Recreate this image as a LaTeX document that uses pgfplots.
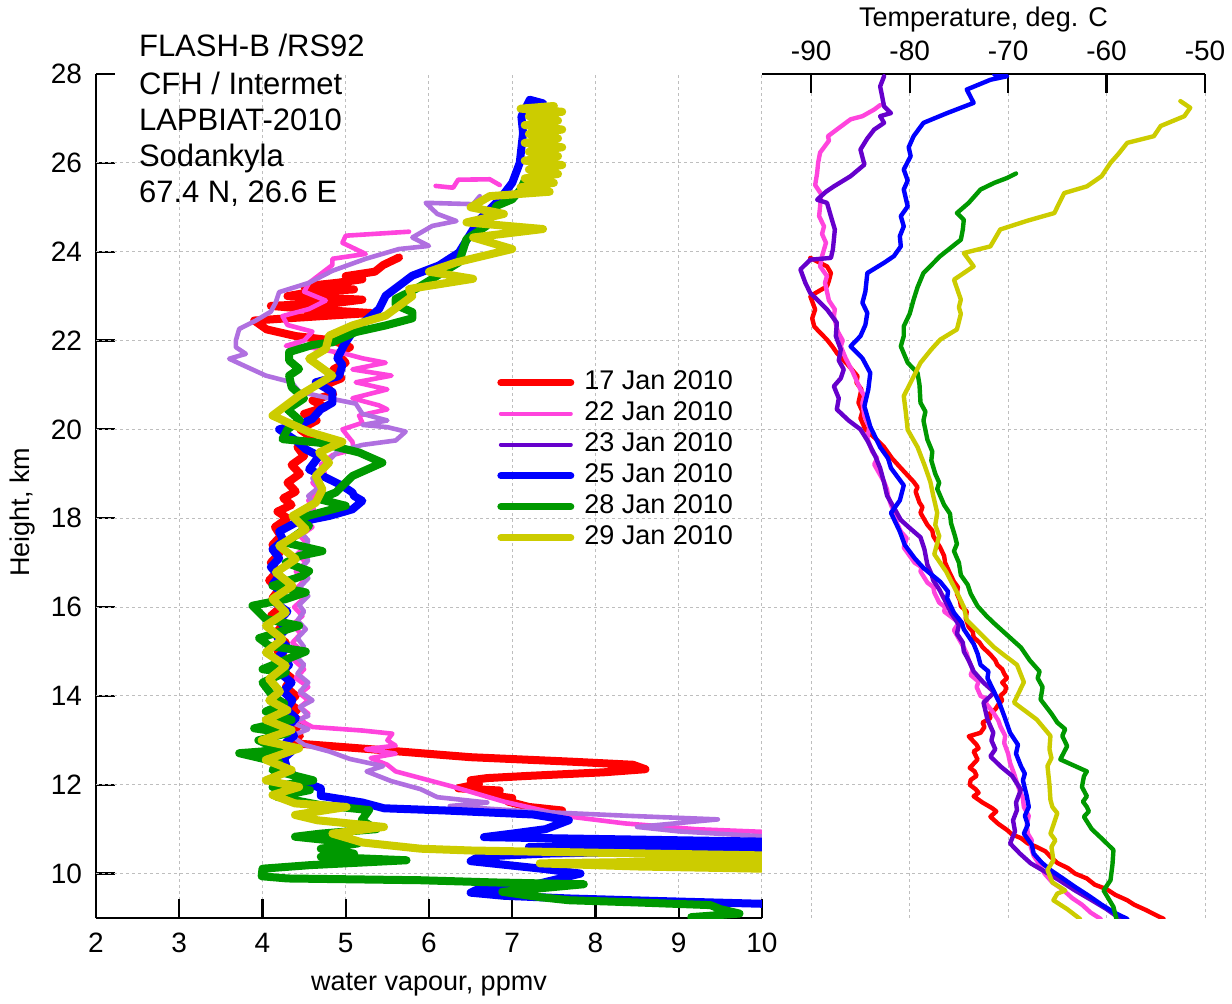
\documentclass[border=0pt]{standalone}
\usepackage{fontspec}
\setmainfont{Liberation Sans}
\usepackage{pgfplots}
\pgfplotsset{compat=1.18}

\definecolor{c17}{RGB}{255,0,0}
\definecolor{c22}{RGB}{255,68,221}
\definecolor{c23}{RGB}{102,0,204}
\definecolor{c23l}{RGB}{176,112,224}
\definecolor{c25}{RGB}{0,0,255}
\definecolor{c28}{RGB}{0,153,0}
\definecolor{c29}{RGB}{204,204,0}
\definecolor{gridgray}{RGB}{190,190,190}

\pgfplotsset{
  profile/.style={
    scale only axis, height=422pt, ymin=9, ymax=28,
    axis line style={-, line width=1.1pt},
    tick align=inside, major tick length=9.5pt,
    tick style={line width=1.1pt, black},
    grid style={gridgray, line width=0.5pt, dash pattern=on 1.5pt off 1.5pt},
    tick label style={font=\fontsize{14}{16}\selectfont},
    label style={font=\fontsize{13.5}{16}\selectfont},
    /pgf/number format/assume math mode=true,
    unbounded coords=jump,
  },
  wv/.style={line cap=round, line join=round, line width=4pt},
  wvthin/.style={line cap=round, line join=round, line width=2.3pt},
  tt/.style={line cap=round, line join=round, line width=2.2pt},
}

\begin{document}
\begin{tikzpicture}
\path[use as bounding box] (-48pt,-42.5pt) rectangle (568pt,459pt);

% ---------------- water vapour panel ----------------
\begin{axis}[profile,
  at={(0pt,0pt)}, anchor=south west, width=333pt,
  xmin=2, xmax=10,
  axis x line*=bottom, axis y line*=left,
  xtick={2,...,10}, ytick={10,12,...,28},
  xmajorgrids,
  extra y ticks={10,12,...,26}, extra y tick labels={},
  extra y tick style={grid=major, major tick length=0pt},
  xticklabel style={yshift=-4pt},
  yticklabel style={xshift=-3.5pt},
  xlabel={water vapour, ppmv}, ylabel={Height, km},
  xlabel style={at={(axis description cs:0.5,-0.0794)}, anchor=center},
  ylabel style={at={(axis description cs:-0.111,0.481)}, anchor=center},
  legend style={at={(0.602,0.652)}, anchor=north west, draw=none, fill=none,
    font=\fontsize{13.5}{16}\selectfont, row sep=1pt, column sep=4pt,
    inner sep=0pt, nodes={inner sep=1pt, text height=9.5pt, text depth=3pt}},
  legend cell align=left,
  legend image code/.code={\draw[#1] (0pt,0pt) -- (35pt,0pt);},
]
\addlegendimage{c17, line width=3.5pt, line cap=round}
\addlegendentry{17 Jan 2010}
\addlegendimage{c22, line width=2pt, line cap=round}
\addlegendentry{22 Jan 2010}
\addlegendimage{c23, line width=2pt, line cap=round}
\addlegendentry{23 Jan 2010}
\addlegendimage{c25, line width=3.5pt, line cap=round}
\addlegendentry{25 Jan 2010}
\addlegendimage{c28, line width=3.5pt, line cap=round}
\addlegendentry{28 Jan 2010}
\addlegendimage{c29, line width=3.5pt, line cap=round}
\addlegendentry{29 Jan 2010}

% 17 Jan
\addplot[c17, wv, forget plot] coordinates {
(7.6,11.42) (7.2,11.5) (6.95,11.62) (7.0,11.7) (6.7,11.77) (6.85,11.87) (6.35,11.92)
(6.6,12.02) (6.5,12.1) (6.7,12.15) (7.2,12.2) (8.1,12.28) (8.6,12.35) (8.45,12.45)
(7.7,12.52) (6.5,12.62) (5.3,12.8) (4.4,12.93) (4.33,13.0) (4.45,13.1) (4.38,13.25)
(4.48,13.4) (4.35,13.55) (4.42,13.7) (4.3,13.85) (4.4,14.0) (4.28,14.2) (4.35,14.4)
(4.22,14.6) (4.3,14.8) (4.18,15.0) (4.28,15.2) (4.15,15.4) (4.25,15.6) (4.1,15.8)
(4.22,16.0) (4.12,16.2) (4.2,16.4) (4.08,16.6) (4.18,16.8) (4.1,17.0) (4.2,17.2)
(4.12,17.4) (4.22,17.6) (4.15,17.8) (4.3,18.0) (4.18,18.15) (4.35,18.3) (4.25,18.45)
(4.4,18.6) (4.3,18.8) (4.45,19.0) (4.35,19.2) (4.5,19.4) (4.42,19.6) (4.6,19.8)
(4.45,20.0) (4.65,20.2) (4.5,20.35) (4.75,20.5) (4.6,20.65) (4.85,20.8) (4.75,21.0)
(4.95,21.15) (4.85,21.35) (5.0,21.5) (4.9,21.7) (5.05,21.85) (4.85,22.0) (4.4,22.1)
(4.05,22.25) (3.9,22.45) (4.3,22.5) (5.3,22.62) (4.6,22.7) (4.1,22.78) (4.9,22.85)
(5.2,22.92) (4.3,23.0) (4.6,23.1) (5.1,23.15) (4.5,23.22) (4.9,23.3) (5.2,23.38)
(5.0,23.45) (5.35,23.55) (5.45,23.7) (5.64,23.87)
};
% 22 Jan
\addplot[c22, wvthin, forget plot] coordinates {
(10,10.94) (9.2,11.0) (8.35,11.13) (7.7,11.28) (7.3,11.45) (6.9,11.62) (6.7,11.73)
(6.3,11.95) (6.0,12.1) (5.6,12.3) (5.5,12.45) (5.3,12.6) (5.6,12.7) (5.24,12.8)
(5.6,12.88) (5.5,13.0) (5.56,13.15) (5.2,13.22) (4.6,13.3) (4.45,13.45) (4.55,13.6)
(4.45,13.75) (4.55,13.9) (4.45,14.05) (4.55,14.2) (4.4,14.4) (4.5,14.6) (4.38,14.8)
(4.48,15.0) (4.36,15.2) (4.46,15.4) (4.36,15.6) (4.48,15.8) (4.38,16.0) (4.5,16.2)
(4.4,16.4) (4.5,16.6) (4.4,16.8) (4.52,17.0) (4.42,17.2) (4.55,17.4) (4.45,17.6)
(4.6,17.8) (4.5,18.0) (4.62,18.2) (4.55,18.4) (4.7,18.6) (4.6,18.8) (4.75,19.0)
(4.7,19.2) (4.84,19.42) (5.1,19.55) (5.08,19.72) (4.96,20.0) (5.2,20.15) (5.16,20.31)
(5.5,20.45) (5.4,20.54) (5.08,20.7) (5.5,20.9) (5.12,21.06) (5.55,21.21) (5.08,21.35)
(5.48,21.5) (5.2,21.6) (5.0,21.7) (4.56,21.85) (4.28,21.88) (4.5,22.0) (4.6,22.2)
(4.3,22.35) (4.24,22.55) (4.56,22.71) (4.76,22.9) (4.5,23.1) (4.56,23.3) (4.7,23.5)
(4.84,23.7) (4.84,23.84) (5.24,23.95) (4.96,24.2) (5.0,24.36) (5.76,24.45)
(nan,nan)
(6.08,25.48) (6.29,25.44) (6.35,25.62) (6.73,25.63) (6.85,25.5)
};
% 23 Jan
\addplot[c23l, wvthin, forget plot] coordinates {
(10,10.84) (9.0,10.95) (8.5,11.05) (9.47,11.22) (8.4,11.3) (7.2,11.4) (6.25,11.52)
(6.7,11.6) (6.1,11.72) (5.9,11.9) (5.55,12.08) (5.25,12.3) (5.45,12.42) (5.05,12.58)
(4.8,12.75) (4.5,12.9) (4.35,13.1) (4.55,13.25) (4.35,13.4) (4.55,13.55) (4.45,13.75)
(4.6,13.9) (4.45,14.1) (4.55,14.3) (4.42,14.5) (4.5,14.7) (4.4,14.9) (4.5,15.1)
(4.42,15.3) (4.52,15.5) (4.42,15.7) (4.5,15.9) (4.44,16.05) (4.55,16.25) (4.45,16.45)
(4.55,16.65) (4.45,16.85) (4.55,17.05) (4.48,17.25) (4.55,17.5) (4.45,17.7) (4.58,17.9)
(4.5,18.1) (4.62,18.3) (4.55,18.5) (4.68,18.7) (4.6,18.9) (4.75,19.1) (4.8,19.3)
(4.9,19.5) (5.2,19.65) (5.6,19.75) (5.72,19.95) (5.5,20.05) (5.2,20.1) (5.5,20.2)
(5.2,20.35) (5.12,20.58) (4.8,20.7) (4.44,20.85) (4.35,21.06) (4.04,21.21) (3.76,21.45)
(3.6,21.59) (3.8,21.7) (3.68,21.85) (3.68,22.0) (3.72,22.26) (3.92,22.45) (4.1,22.65)
(4.16,22.86) (4.2,23.09) (4.56,23.3) (4.84,23.57) (5.24,23.84) (5.64,24.06) (6.0,24.13)
(5.8,24.32) (6.04,24.58) (6.33,24.69) (6.1,24.85) (5.96,25.1) (6.53,25.07) (6.61,25.25)
};
% 25 Jan
\addplot[c25, wv, forget plot] coordinates {
(10,9.32) (8.8,9.38) (7.68,9.44) (6.9,9.5) (6.5,9.57) (6.6,9.66) (7.2,9.72) (7.82,10.0)
(7.4,10.1) (6.9,10.2) (6.5,10.28) (6.6,10.38) (7.4,10.45) (10,10.55) (7.2,10.6)
(10,10.66) (10,10.72) (6.66,10.82) (7.0,10.9) (7.4,11.0) (7.68,11.2) (7.25,11.33)
(6.2,11.42) (5.46,11.47) (5.2,11.6) (4.7,11.75) (4.7,11.92) (4.45,12.1) (4.3,12.33)
(4.26,12.6) (4.35,12.75) (4.28,12.95) (4.38,13.1) (4.3,13.3) (4.4,13.5) (4.28,13.7)
(4.36,13.9) (4.25,14.1) (4.35,14.3) (4.22,14.5) (4.32,14.7) (4.2,14.9) (4.3,15.1)
(4.18,15.3) (4.28,15.5) (4.2,15.7) (4.3,15.9) (4.15,16.1) (4.25,16.3) (4.12,16.5)
(4.2,16.7) (4.1,16.9) (4.2,17.1) (4.12,17.3) (4.25,17.5) (4.2,17.7) (4.4,17.9)
(4.8,18.05) (5.08,18.2) (5.2,18.39) (5.1,18.5) (5.08,18.58) (4.96,18.73) (4.56,19.1)
(4.68,19.4) (4.52,19.55) (4.4,19.75) (4.2,20.0) (4.5,20.15) (4.6,20.24) (4.7,20.45)
(4.84,20.6) (4.84,20.84) (4.64,21.06) (4.92,21.2) (4.96,21.45) (4.9,21.6) (4.98,21.9)
(5.05,22.1) (5.12,22.26) (5.4,22.71) (5.48,23.01) (5.8,23.46) (6.12,23.69) (6.36,23.98)
(6.53,24.5) (6.61,24.73) (6.85,25.18) (7.0,25.55) (7.09,26.0) (7.13,26.67) (7.11,27.04)
(7.21,27.42) (7.37,27.34)
};
% 28 Jan
\addplot[c28, wv, forget plot] coordinates {
(9.15,9.02) (9.73,9.1) (9.5,9.2) (9.38,9.29) (8.5,9.35) (7.68,9.4) (7.33,9.47)
(6.88,9.59) (7.86,9.76) (6.8,9.8) (5.9,9.85) (4.3,9.89) (3.99,9.94) (4.0,10.11)
(4.57,10.19) (5.73,10.3) (4.7,10.38) (5.1,10.45) (4.7,10.56) (5.15,10.68) (4.39,10.83)
(4.7,10.9) (5.37,11.0) (5.19,11.2) (5.28,11.43) (4.7,11.54) (4.17,11.73) (4.57,11.88)
(4.12,11.95) (4.61,12.1) (4.12,12.33) (4.2,12.5) (3.72,12.71) (4.21,12.78) (3.95,13.0)
(4.3,13.16) (3.9,13.27) (4.35,13.46) (4.04,13.65) (4.26,13.83) (4.12,14.0) (4.0,14.3)
(4.28,14.53) (4.0,14.6) (4.52,15.0) (4.08,15.13) (3.96,15.3) (4.44,15.58) (4.04,15.73)
(3.88,16.03) (4.28,16.18) (4.52,16.33) (4.12,16.48) (4.48,16.7) (4.56,16.81) (4.28,17.0)
(4.44,17.15) (4.72,17.26) (4.28,17.45) (4.56,17.83) (4.4,17.98) (5.0,18.28) (4.68,18.43)
(4.88,18.58) (5.08,18.95) (5.44,19.25) (5.16,19.48) (4.68,19.7) (4.24,19.78) (4.3,20.0)
(4.45,20.2) (4.3,20.45) (4.5,20.7) (4.35,20.95) (4.32,21.21) (4.44,21.36) (4.32,21.55)
(4.32,21.74) (4.6,21.9) (4.84,21.96) (5.12,22.19) (5.48,22.34) (5.8,22.5) (5.8,22.64)
(5.6,22.8) (5.6,22.94) (5.84,23.16) (6.04,23.39) (6.36,23.76) (6.45,24.28) (6.69,24.58)
(6.81,25.03) (7.0,25.18) (7.1,25.4) (7.15,25.6)
};
% 29 Jan
\addplot[c29, wv, forget plot] coordinates {
(10,10.11) (8.5,10.16) (7.33,10.23) (8.8,10.27) (10,10.3) (9.0,10.35) (10,10.41)
(8.0,10.47) (6.5,10.52) (5.9,10.56) (5.2,10.7) (4.84,10.9) (5.46,11.05) (4.66,11.2)
(4.39,11.32) (5.01,11.5) (4.39,11.58) (4.12,11.77) (4.44,11.95) (4.04,12.1) (4.35,12.33)
(4.04,12.56) (4.44,12.82) (3.99,13.0) (4.35,13.23) (4.04,13.46) (4.3,13.68) (4.08,13.9)
(4.21,14.1) (4.08,14.38) (4.28,14.68) (4.04,14.98) (4.24,15.28) (4.04,15.58) (4.28,15.88)
(4.12,16.18) (4.36,16.48) (4.16,16.78) (4.4,17.08) (4.2,17.38) (4.52,17.75) (4.36,18.05)
(4.64,18.35) (4.72,18.65) (4.64,18.95) (4.8,19.25) (4.68,19.48) (4.96,19.72) (4.56,19.94)
(4.12,20.31) (4.44,20.76) (4.84,21.21) (4.56,21.59) (4.76,21.81) (4.8,22.11) (5.08,22.34)
(5.48,22.56) (5.8,23.0) (5.76,23.16) (6.53,23.39) (6.0,23.55) (6.33,23.76) (7.0,24.06)
(6.53,24.32) (7.37,24.51) (6.45,24.66) (6.9,24.85) (6.5,25.0) (6.73,25.25) (7.45,25.35)
(7.1,25.45) (7.5,25.55) (7.15,25.65) (7.55,25.75) (7.2,25.85) (7.6,25.95) (7.15,26.05)
(7.55,26.15) (7.2,26.25) (7.6,26.35) (7.15,26.45) (7.55,26.55) (7.2,26.65) (7.6,26.75)
(7.15,26.85) (7.55,26.95) (7.2,27.05) (7.6,27.15) (7.1,27.22) (7.5,27.28)
};
\end{axis}

\node[anchor=base west, font=\fontsize{15.5}{18}\selectfont] at (18pt,430.5pt) {FLASH-B /RS92};
\node[anchor=base west, font=\fontsize{15.5}{18}\selectfont] at (18pt,411.5pt) {CFH / Intermet};
\node[anchor=base west, font=\fontsize{15.5}{18}\selectfont] at (18pt,393.5pt) {LAPBIAT-2010};
\node[anchor=base west, font=\fontsize{15.5}{18}\selectfont] at (18pt,375.5pt) {Sodankyla};
\node[anchor=base west, font=\fontsize{15.5}{18}\selectfont] at (18pt,357.5pt) {67.4 N, 26.6 E};

% ---------------- temperature panel ----------------
\begin{axis}[profile,
  at={(333pt,0pt)}, anchor=south west, width=221.5pt,
  xmin=-95, xmax=-50,
  axis x line*=top, axis y line*=left,
  y axis line style={draw=none},
  xtick={-90,-80,...,-50}, ytick={10,12,...,26}, yticklabels={},
  ytick style={draw=none},
  xticklabel style={yshift=3pt},
  xmajorgrids, ymajorgrids,
  xlabel={Temperature, deg. C},
  xlabel style={at={(axis description cs:0.5,1.064)}, anchor=center},
]
% 17 Jan
\addplot[c17, tt] coordinates {
(-54.2,8.98) (-55.3,9.1) (-56.0,9.18) (-57.2,9.3) (-57.9,9.4) (-59.1,9.52) (-60.0,9.65)
(-61.2,9.75) (-62.0,9.89) (-63.2,10.0) (-63.9,10.12) (-65.0,10.24) (-65.7,10.38) (-66.2,10.5)
(-67.1,10.6) (-68.0,10.68) (-68.7,10.8) (-69.6,10.88) (-70.1,10.98) (-71.0,11.12) (-71.8,11.28)
(-71.2,11.4) (-71.6,11.47) (-72.6,11.6) (-73.5,11.74) (-73.0,11.82) (-73.3,11.9) (-73.9,12.0)
(-73.8,12.11) (-73.2,12.2) (-73.4,12.3) (-73.9,12.38) (-73.6,12.45) (-73.1,12.57) (-73.5,12.75)
(-73.0,12.82) (-73.2,12.9) (-74.0,13.09) (-72.8,13.17) (-72.4,13.3) (-72.6,13.4) (-71.8,13.5)
(-71.9,13.6) (-71.3,13.7) (-71.0,13.8) (-70.6,13.9) (-70.8,14.0) (-70.3,14.1) (-70.2,14.2)
(-70.6,14.3) (-70.1,14.4) (-70.4,14.5) (-70.6,14.6) (-71.1,14.7) (-71.3,14.8) (-71.8,14.93)
(-72.6,15.1) (-72.9,15.2) (-73.5,15.32) (-73.6,15.45) (-74.0,15.55) (-74.3,15.75) (-74.2,15.9)
(-74.8,16.02) (-74.9,16.15) (-75.2,16.3) (-75.1,16.45) (-75.5,16.57) (-76.0,16.8) (-76.4,17.0)
(-76.5,17.15) (-76.9,17.34) (-77.6,17.6) (-77.7,17.72) (-78.2,17.85) (-78.9,18.12) (-78.7,18.25)
(-79.0,18.35) (-79.4,18.6) (-79.2,18.7) (-79.6,18.82) (-80.9,19.13) (-81.8,19.35) (-82.6,19.6)
(-83.5,19.8) (-84.5,20.0) (-85.0,20.25) (-84.8,20.4) (-85.2,20.6) (-84.9,20.9) (-85.4,21.05)
(-85.3,21.2) (-86.3,21.46) (-87.4,21.72) (-87.8,21.85) (-88.4,22.02) (-89.2,22.2) (-89.7,22.32)
(-89.9,22.5) (-89.6,22.7) (-90.1,23.0) (-88.4,23.22) (-88.2,23.35) (-88.0,23.52) (-88.4,23.67)
(-90.1,23.86)
};
% 22 Jan
\addplot[c22, tt] coordinates {
(-60.6,8.98) (-61.6,9.12) (-62.5,9.3) (-63.5,9.45) (-64.5,9.65) (-65.5,9.8) (-66.3,10.0)
(-66.8,10.2) (-67.4,10.4) (-67.7,10.6) (-67.6,10.75) (-68.0,10.9) (-68.1,11.1) (-67.9,11.3)
(-68.4,11.5) (-68.5,11.7) (-68.8,11.85) (-69.1,12.04) (-69.4,12.25) (-69.8,12.49) (-70.0,12.7)
(-70.4,12.94) (-70.3,13.1) (-70.8,13.32) (-71.0,13.45) (-71.5,13.62) (-72.3,13.85) (-72.1,13.92)
(-72.8,14.0) (-73.2,14.2) (-73.0,14.32) (-73.8,14.47) (-73.6,14.6) (-74.0,14.8) (-74.2,14.95)
(-74.5,15.09) (-75.5,15.48) (-75.0,15.65) (-76.5,15.9) (-76.4,16.0) (-77.0,16.1) (-77.5,16.33)
(-77.6,16.45) (-78.2,16.55) (-78.9,16.8) (-78.8,16.9) (-79.5,17.0) (-80.6,17.34) (-80.3,17.55)
(-80.9,17.7) (-81.3,17.89) (-81.6,18.15) (-81.9,18.3) (-82.2,18.5) (-82.3,18.65) (-82.6,18.82)
(-83.6,19.21) (-83.3,19.35) (-83.8,19.5) (-84.3,19.8) (-84.1,20.05) (-84.6,20.3) (-84.8,20.6)
(-84.6,20.75) (-85.0,20.9) (-85.8,21.3) (-86.5,21.6) (-87.0,21.87) (-86.8,22.0) (-87.3,22.2)
(-87.7,22.55) (-87.6,22.7) (-88.2,22.9) (-88.6,23.3) (-88.4,23.45) (-89.1,23.67) (-88.9,23.9)
(-88.5,24.2) (-88.9,24.4) (-88.7,24.57) (-89.2,24.8) (-89.1,25.02) (-89.0,25.3) (-89.6,25.5)
(-89.4,25.77) (-89.3,26.0) (-89.1,26.23) (-88.2,26.5) (-88.3,26.6) (-87.4,26.75) (-86.0,26.98)
(-84.8,27.05) (-83.6,27.2) (-83.0,27.3)
};
% 23 Jan
\addplot[c23, tt] coordinates {
(-58.6,8.98) (-60.0,9.2) (-61.5,9.4) (-63.2,9.62) (-64.8,9.85) (-66.3,10.05) (-67.7,10.23)
(-68.8,10.45) (-69.8,10.68) (-69.3,10.95) (-69.5,11.2) (-69.1,11.43) (-69.2,11.6) (-68.7,11.89)
(-69.6,12.2) (-70.8,12.42) (-71.8,12.64) (-71.3,12.8) (-71.7,13.0) (-71.5,13.17) (-72.1,13.47)
(-72.5,13.85) (-71.4,14.08) (-72.5,14.3) (-73.5,14.55) (-74.0,14.8) (-74.5,15.0) (-74.6,15.2)
(-75.2,15.4) (-75.0,15.6) (-75.8,15.87) (-76.3,16.1) (-77.0,16.4) (-77.6,16.6) (-77.8,16.75)
(-78.2,16.95) (-78.5,17.3) (-78.9,17.57) (-80.0,17.78) (-80.9,17.96) (-81.5,18.2) (-82.3,18.51)
(-82.6,18.8) (-83.0,19.13) (-83.5,19.4) (-84.3,19.75) (-85.0,20.0) (-86.2,20.2) (-87.4,20.45)
(-87.2,20.7) (-87.7,20.97) (-87.0,21.15) (-86.7,21.35) (-87.2,21.55) (-87.0,21.8) (-87.5,22.1)
(-87.4,22.4) (-88.4,22.7) (-89.3,22.9) (-90.1,23.07) (-90.6,23.3) (-91.1,23.6) (-90.1,23.82)
(-88.0,23.86) (-87.8,24.05) (-87.7,24.27) (-87.6,24.5) (-87.9,24.72) (-88.4,25.1) (-89.4,25.17)
(-88.5,25.35) (-87.7,25.47) (-86.0,25.7) (-84.6,25.96) (-85.0,26.3) (-84.3,26.55) (-83.6,26.75)
(-82.6,26.9) (-83.0,27.05) (-81.9,27.12) (-82.6,27.27) (-82.8,27.5) (-83.0,27.72) (-82.6,27.95)
};
% 25 Jan
\addplot[c25, tt] coordinates {
(-57.9,8.98) (-59.2,9.12) (-60.5,9.3) (-61.8,9.5) (-63.2,9.7) (-64.5,9.9) (-65.7,10.08)
(-66.6,10.25) (-67.4,10.45) (-67.6,10.65) (-68.4,10.9) (-68.0,11.1) (-68.3,11.3) (-67.9,11.5)
(-68.1,11.74) (-68.5,12.1) (-68.3,12.25) (-68.7,12.42) (-69.2,12.7) (-69.0,12.9) (-69.8,13.17)
(-70.4,13.55) (-70.9,13.85) (-71.4,14.08) (-72.1,14.4) (-72.0,14.55) (-72.8,14.7) (-73.1,14.95)
(-73.5,15.17) (-74.5,15.5) (-74.7,15.65) (-75.5,15.87) (-76.2,16.2) (-76.1,16.35) (-76.9,16.57)
(-78.6,16.88) (-79.5,17.1) (-80.5,17.4) (-81.0,17.7) (-81.9,18.12) (-81.0,18.4) (-80.6,18.74)
(-81.9,19.13) (-82.2,19.35) (-83.0,19.6) (-84.0,20.06) (-84.6,20.52) (-84.2,20.9) (-84.0,21.27)
(-84.8,21.6) (-86.0,21.87) (-85.0,22.1) (-84.5,22.35) (-84.3,22.62) (-84.8,22.85) (-84.5,23.1)
(-84.3,23.52) (-82.6,23.75) (-81.6,23.9) (-80.9,24.12) (-81.0,24.35) (-80.6,24.57) (-80.9,24.8)
(-80.2,25.02) (-80.6,25.4) (-80.2,25.6) (-80.6,25.85) (-79.9,26.15) (-80.1,26.35) (-79.6,26.6)
(-78.6,26.9) (-76.2,27.12) (-73.5,27.35) (-74.2,27.65) (-71.8,27.87) (-70.1,27.95) (-71.4,27.99)
};
% 28 Jan
\addplot[c28, tt] coordinates {
(-59.0,8.98) (-59.3,9.25) (-60.3,9.62) (-59.6,9.85) (-59.4,10.2) (-59.3,10.53) (-60.3,10.75)
(-61.5,11.0) (-62.3,11.28) (-61.8,11.4) (-62.0,11.5) (-62.4,11.62) (-62.0,11.74) (-62.5,11.95)
(-62.3,12.19) (-62.0,12.3) (-64.7,12.57) (-64.0,12.87) (-64.5,13.1) (-64.2,13.25) (-65.0,13.4)
(-65.6,13.6) (-66.7,13.92) (-66.5,14.2) (-67.0,14.4) (-66.8,14.55) (-67.8,14.8) (-68.7,15.09)
(-70.0,15.35) (-71.4,15.63) (-72.2,15.8) (-73.1,16.02) (-73.8,16.3) (-74.1,16.5) (-74.8,16.72)
(-75.0,17.0) (-75.5,17.26) (-75.2,17.42) (-75.4,17.6) (-75.8,17.89) (-75.9,18.1) (-76.5,18.3)
(-77.2,18.66) (-77.0,18.8) (-77.4,19.0) (-77.8,19.3) (-77.7,19.5) (-78.2,19.77) (-78.6,20.2)
(-78.4,20.4) (-78.9,20.6) (-79.0,21.0) (-79.2,21.27) (-80.2,21.5) (-80.9,21.87) (-80.6,22.1)
(-80.6,22.32) (-80.0,22.6) (-79.6,22.92) (-79.2,23.2) (-78.6,23.52) (-76.9,23.9) (-74.8,24.27)
(-74.6,24.5) (-74.5,24.72) (-75.2,24.87) (-74.0,25.1) (-72.8,25.4) (-71.4,25.55) (-70.1,25.66)
(-69.2,25.76)
};
% 29 Jan
\addplot[c29, tt] coordinates {
(-62.7,8.98) (-64.0,9.2) (-65.4,9.4) (-65.0,9.55) (-64.2,9.62) (-65.5,9.8) (-66.0,10.08)
(-65.4,10.3) (-65.6,10.6) (-65.2,10.75) (-65.7,10.9) (-65.0,11.36) (-65.5,11.5) (-65.7,11.66)
(-65.8,12.0) (-66.0,12.42) (-65.6,12.6) (-65.8,12.8) (-65.7,13.1) (-67.1,13.47) (-69.4,13.85)
(-68.4,14.31) (-69.1,14.7) (-70.3,14.9) (-71.4,15.09) (-72.8,15.4) (-74.2,15.71) (-74.5,16.0)
(-75.2,16.33) (-76.3,16.8) (-77.5,17.19) (-77.0,17.6) (-77.4,17.85) (-77.2,18.12) (-77.6,18.5)
(-77.9,18.82) (-78.5,19.2) (-79.2,19.6) (-80.2,19.99) (-80.4,20.4) (-80.6,20.75) (-79.8,21.1)
(-78.9,21.5) (-77.8,21.8) (-76.9,22.02) (-75.2,22.25) (-74.8,22.6) (-75.0,22.75) (-74.8,22.92)
(-75.5,23.37) (-73.5,23.67) (-74.5,23.97) (-71.8,24.12) (-70.8,24.5) (-68.0,24.7) (-65.3,24.87)
(-64.8,25.1) (-64.3,25.32) (-62.0,25.47) (-60.5,25.7) (-59.6,26.0) (-58.8,26.2) (-57.9,26.45)
(-55.2,26.6) (-54.5,26.83) (-52.1,27.05) (-51.5,27.24) (-52.5,27.39)
};
\end{axis}
\end{tikzpicture}
\end{document}
